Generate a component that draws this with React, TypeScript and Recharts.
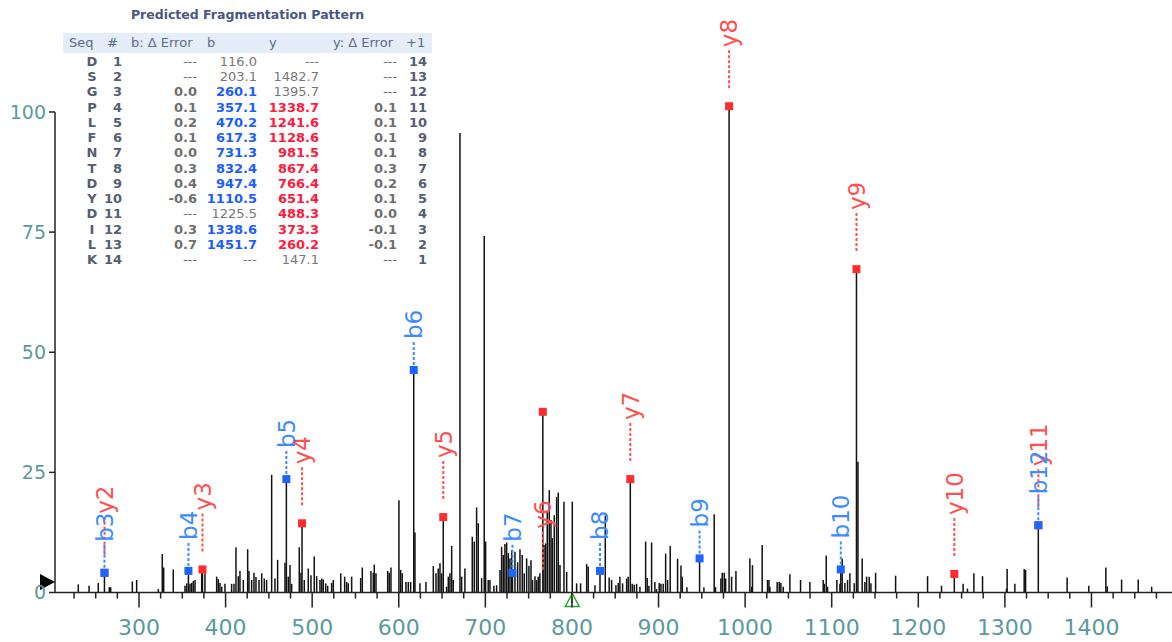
import React from 'react';
import { ComposedChart, XAxis, YAxis, Scatter, ErrorBar, ReferenceLine, ReferenceDot } from 'recharts';

// Spectrum peaks: [m/z, relative intensity]
const peaks: [number, number][] = [
  [229.9, 1.7], [242.3, 1.4], [253.0, 2.0], [260.1, 4.1], [265.7, 1.1], [267.3, 1.1], [292.3, 2.3], [297.3, 2.6],
  [322.3, 0.7], [326.9, 8.0], [328.5, 5.2], [339.6, 4.8], [353.1, 1.4], [355.1, 1.9], [357.1, 4.5], [358.9, 1.8],
  [360.8, 2.0], [362.7, 2.4], [364.7, 2.6], [372.4, 4.0], [373.3, 4.8], [376.2, 4.0], [389.7, 3.3], [391.6, 2.8],
  [393.5, 2.0], [395.5, 1.2], [399.3, 1.8], [407.0, 1.8], [409.7, 1.8], [412.0, 9.4], [414.7, 3.4], [416.6, 4.5],
  [420.5, 2.6], [425.5, 9.0], [427.0, 4.5], [430.1, 2.6], [432.8, 4.1], [435.1, 3.2], [438.6, 2.6], [441.7, 4.0],
  [444.7, 2.9], [447.4, 2.6], [453.2, 24.5], [457.0, 2.9], [460.1, 6.8], [468.6, 6.2], [470.2, 23.6], [472.4, 3.3],
  [474.4, 5.7], [476.3, 1.8], [485.1, 9.4], [487.1, 4.1], [488.3, 14.4], [490.9, 2.6], [495.5, 5.0], [498.6, 3.6],
  [502.4, 7.5], [505.2, 3.4], [509.0, 2.6], [511.0, 2.9], [512.8, 2.7], [515.6, 1.9], [517.9, 1.4], [522.5, 2.0],
  [524.4, 2.6], [533.0, 4.0], [537.5, 3.3], [539.8, 2.2], [541.7, 1.9], [545.6, 3.3], [556.0, 3.0], [557.9, 5.2],
  [567.9, 4.5], [570.6, 4.1], [571.7, 5.8], [573.7, 4.0], [587.2, 4.5], [589.0, 4.1], [591.0, 5.2], [600.2, 19.2],
  [602.2, 4.7], [604.0, 4.0], [608.3, 2.2], [611.0, 2.2], [613.7, 2.2], [617.3, 46.3], [618.7, 12.5], [624.5, 1.9],
  [631.4, 2.2], [639.9, 5.5], [643.0, 4.0], [645.6, 5.0], [647.6, 6.1], [649.5, 4.0], [651.4, 15.7], [655.2, 1.2],
  [657.2, 3.3], [659.1, 4.0], [661.1, 9.7], [662.9, 2.6], [670.7, 95.6], [672.6, 3.3], [676.4, 5.0], [684.9, 11.6],
  [687.2, 10.6], [689.9, 17.7], [691.8, 14.4], [695.7, 3.0], [698.7, 74.2], [700.3, 10.6], [703.3, 2.6], [705.3, 2.6],
  [709.9, 1.4], [713.0, 1.5], [716.9, 4.7], [718.8, 9.5], [720.7, 7.8], [722.6, 10.1], [724.6, 10.4], [726.5, 8.2],
  [728.4, 7.1], [730.4, 8.8], [731.3, 4.1], [734.2, 8.5], [737.3, 6.3], [740.0, 9.0], [742.6, 7.8], [744.9, 4.0],
  [747.7, 7.1], [750.3, 5.5], [752.7, 6.7], [754.5, 2.6], [757.3, 3.4], [759.2, 2.6], [761.1, 3.3], [763.0, 4.0],
  [766.4, 37.6], [767.7, 9.9], [769.6, 10.2], [771.5, 16.8], [773.8, 21.3], [775.8, 15.1], [777.3, 11.3], [779.6, 16.1],
  [782.3, 19.9], [784.2, 20.8], [786.2, 5.7], [790.8, 18.9], [793.9, 4.3], [800.4, 18.9], [805.4, 1.9], [810.0, 1.9],
  [817.0, 5.9], [818.8, 5.4], [826.6, 1.5], [832.4, 4.5], [838.5, 16.0], [843.0, 3.1], [845.8, 2.6], [850.8, 1.5],
  [853.5, 2.0], [855.4, 3.3], [858.5, 1.9], [863.2, 2.9], [865.0, 3.3], [867.4, 23.6], [869.6, 1.8], [871.9, 1.6],
  [874.7, 1.8], [878.5, 1.2], [885.1, 10.6], [886.9, 3.0], [888.9, 1.4], [892.0, 10.4], [895.8, 2.2], [897.7, 0.7],
  [900.8, 2.0], [902.8, 1.8], [905.4, 1.8], [908.2, 8.1], [910.5, 2.6], [913.5, 9.7], [922.0, 7.0], [925.9, 5.6],
  [927.4, 3.3], [932.8, 1.1], [947.4, 7.1], [952.4, 1.1], [964.3, 16.3], [965.8, 1.1], [972.0, 2.9], [973.6, 4.1],
  [975.9, 4.1], [977.5, 2.9], [981.5, 101.2], [984.4, 3.3], [989.4, 4.5], [1005.5, 7.1], [1007.5, 1.2], [1008.5, 5.7],
  [1019.7, 9.9], [1025.9, 2.6], [1027.5, 2.6], [1028.6, 1.2], [1037.0, 2.2], [1039.4, 2.2], [1041.3, 2.0], [1044.0, 1.2],
  [1051.7, 3.8], [1064.0, 2.6], [1074.8, 2.2], [1090.2, 2.6], [1091.4, 1.8], [1093.7, 7.7], [1095.2, 1.2], [1106.0, 2.6],
  [1109.5, 1.8], [1110.5, 4.8], [1112.1, 7.1], [1115.2, 2.0], [1118.3, 2.6], [1121.0, 4.0], [1126.0, 1.9], [1128.6, 67.3],
  [1130.3, 27.2], [1135.2, 7.1], [1138.3, 2.2], [1140.3, 3.3], [1143.3, 3.3], [1145.3, 1.9], [1150.7, 4.1], [1173.8, 3.5],
  [1210.7, 3.4], [1226.8, 1.4], [1241.6, 3.85], [1251.8, 1.8], [1256.8, 0.8], [1264.2, 4.0], [1274.2, 3.4], [1301.8, 0.8],
  [1302.6, 4.9], [1311.5, 1.8], [1322.3, 4.9], [1323.9, 4.7], [1338.6, 14.0], [1371.9, 3.1], [1396.9, 1.4], [1416.6, 5.2],
  [1418.2, 1.3], [1434.8, 2.7], [1454.0, 2.7], [1469.5, 1.2],
];

// matched fragment ions
const bIons = [
  { label: 'b3', mz: 260.1, intensity: 4.1 },
  { label: 'b4', mz: 357.1, intensity: 4.5 },
  { label: 'b5', mz: 470.2, intensity: 23.6 },
  { label: 'b6', mz: 617.3, intensity: 46.3 },
  { label: 'b7', mz: 731.3, intensity: 4.1 },
  { label: 'b8', mz: 832.4, intensity: 4.5 },
  { label: 'b9', mz: 947.4, intensity: 7.1 },
  { label: 'b10', mz: 1110.5, intensity: 4.8 },
  { label: 'b12', mz: 1338.6, intensity: 14.0 },
];

const yIons = [
  { label: 'y2', mz: 260.2, intensity: 4.1 },
  { label: 'y3', mz: 373.3, intensity: 4.8 },
  { label: 'y4', mz: 488.3, intensity: 14.4 },
  { label: 'y5', mz: 651.4, intensity: 15.7 },
  { label: 'y6', mz: 766.4, intensity: 37.6, labelAt: 1.0 },
  { label: 'y7', mz: 867.4, intensity: 23.6 },
  { label: 'y8', mz: 981.5, intensity: 101.2 },
  { label: 'y9', mz: 1128.6, intensity: 67.3 },
  { label: 'y10', mz: 1241.6, intensity: 3.85 },
  { label: 'y11', mz: 1338.7, intensity: 14.0 },
];

const precursorMz = 800.4;
const thresholdLevel = 2.2;

const xMajorTicks = [300, 400, 500, 600, 700, 800, 900, 1000, 1100, 1200, 1300, 1400];
const yTicks = [0, 25, 50, 75, 100];

// fragmentation table
const seqResidues = ['D', 'S', 'G', 'P', 'L', 'F', 'N', 'T', 'D', 'Y', 'D', 'I', 'L', 'K'];
const bValues = ['116.0', '203.1', '260.1', '357.1', '470.2', '617.3', '731.3', '832.4', '947.4', '1110.5', '1225.5', '1338.6', '1451.7', '---'];
const yValues = ['---', '1482.7', '1395.7', '1338.7', '1241.6', '1128.6', '981.5', '867.4', '766.4', '651.4', '488.3', '373.3', '260.2', '147.1'];
const bErrors = ['---', '---', '0.0', '0.1', '0.2', '0.1', '0.0', '0.3', '0.4', '-0.6', '---', '0.3', '0.7', '---'];
const yErrors = ['---', '---', '---', '0.1', '0.1', '0.1', '0.1', '0.3', '0.2', '0.1', '0.0', '-0.1', '-0.1', '---'];

const BLUE = '#1a66ff';
const BLUE_TXT = '#3d8cff';
const RED = '#ff2d2d';
const RED_TXT = '#ff4f4f';
const TEAL = '#5b9a9a';
const FONT = '"DejaVu Sans", Verdana, sans-serif';

const stemData = peaks.map(([mz, v]) => ({ mz, y: v / 2, err: v / 2 }));
const bMarkerData = bIons.map((d) => ({ mz: d.mz, y: d.intensity, label: d.label }));
const yMarkerData = yIons.map((d) => ({ mz: d.mz, y: d.intensity, label: d.label }));
const yLabelData = yIons.map((d) => ({ mz: d.mz, y: d.labelAt ?? d.intensity, label: d.label }));

const xTicks: number[] = [];
for (let t = 225; t <= 1475; t += 25) xTicks.push(t);

const XTick = (props: any) => {
  const { x, y, payload } = props;
  const major = xMajorTicks.includes(payload.value);
  return (
    <g>
      <line x1={x} y1={y} x2={x} y2={y + (major ? 15 : 6)} stroke="#222" strokeWidth={1.5} />
      {major && (
        <text x={x} y={y + 42} textAnchor="middle" fontSize={22} fill={TEAL} fontFamily={FONT}>
          {payload.value}
        </text>
      )}
    </g>
  );
};

const YTick = (props: any) => {
  const { x, y, payload } = props;
  return (
    <g>
      <line x1={x - 6} y1={y} x2={x} y2={y} stroke="#222" strokeWidth={1.5} />
      <text x={x - 9} y={y} dy="0.36em" textAnchor="end" fontSize={19} fill={TEAL} fontFamily={FONT}>
        {payload.value}
      </text>
    </g>
  );
};

const rotatedText = (cx: number, ty: number, label: string, color: string) => (
  <text
    x={cx}
    y={ty}
    dy="0.36em"
    transform={`rotate(-90 ${cx} ${ty})`}
    fontSize={23}
    fill={color}
    fontFamily={FONT}
  >
    {label}
  </text>
);

const BLabel = (props: any) => {
  const { cx, cy, payload } = props;
  return (
    <g>
      <line x1={cx} y1={cy} x2={cx} y2={cy - 30} stroke={BLUE_TXT} strokeWidth={2} strokeDasharray="3 2" />
      {rotatedText(cx, cy - 31, payload.label, BLUE_TXT)}
      <rect x={cx - 4} y={cy - 4} width={8} height={8} fill={BLUE} />
    </g>
  );
};

const YLabel = (props: any) => {
  const { cx, cy, payload } = props;
  return (
    <g>
      <line x1={cx} y1={cy - 18} x2={cx} y2={cy - 58} stroke={RED_TXT} strokeWidth={2} strokeDasharray="3 2" />
      {rotatedText(cx, cy - 59, payload.label, RED_TXT)}
    </g>
  );
};

const RedSquare = (props: any) => {
  const { cx, cy } = props;
  return <rect x={cx - 4} y={cy - 4} width={8} height={8} fill={RED} />;
};

const Empty = () => <g />;

const ThresholdMark = (props: any) => {
  const { cx, cy } = props;
  return <polygon points={`${cx - 15},${cy - 8} ${cx},${cy} ${cx - 15},${cy + 8}`} fill="#000" />;
};

const PrecursorMark = (props: any) => {
  const { cx, cy } = props;
  return (
    <g stroke="#2aa52a" strokeWidth={1.5} fill="none">
      <polygon points={`${cx},${cy + 1} ${cx - 7},${cy + 14} ${cx + 7},${cy + 14}`} />
      <line x1={cx} y1={cy + 5} x2={cx} y2={cy + 11} />
    </g>
  );
};

const ROW_H = 15.23;
const cellBase: React.CSSProperties = { position: 'absolute', whiteSpace: 'nowrap', lineHeight: `${ROW_H}px` };

const Cell = ({ right, top, text, color, bold }: { right: number; top: number; text: string; color: string; bold?: boolean }) => (
  <span style={{ ...cellBase, left: right - 80, width: 80, textAlign: 'right', top, color, fontWeight: bold ? 'bold' : 'normal' }}>
    {text}
  </span>
);

const FragTable = () => {
  const headerColor = '#5c6b8c';
  const header = [
    { t: 'Seq', l: 69 },
    { t: '#', l: 107 },
    { t: 'b: \u0394 Error', l: 131 },
    { t: 'b', l: 207 },
    { t: 'y', l: 269 },
    { t: 'y: \u0394 Error', l: 333 },
    { t: '+1', l: 406 },
  ];
  return (
    <div style={{ position: 'absolute', left: 0, top: 0, width: 440, height: 270, fontFamily: FONT, fontSize: 13 }}>
      <div style={{ position: 'absolute', left: 60, width: 375, top: 7, textAlign: 'center', fontWeight: 'bold', color: '#4a5684', fontSize: 12.5, lineHeight: '16px' }}>
        Predicted Fragmentation Pattern
      </div>
      <div style={{ position: 'absolute', left: 63, top: 33, width: 369, height: 20, background: '#e5edf9' }} />
      {header.map((h) => (
        <span key={h.t} style={{ position: 'absolute', left: h.l, top: 35, color: headerColor, lineHeight: '16px' }}>
          {h.t}
        </span>
      ))}
      {seqResidues.map((res, i) => {
        const top = 54 + i * ROW_H;
        const bMatched = bErrors[i] !== '---';
        const yMatched = yErrors[i] !== '---';
        return (
          <React.Fragment key={i}>
            <span style={{ ...cellBase, left: 82, width: 20, textAlign: 'center', top, color: '#555d72', fontWeight: 'bold' }}>{res}</span>
            <Cell right={122} top={top} text={String(i + 1)} color="#555d72" bold />
            <Cell right={197} top={top} text={bErrors[i]} color="#6e6e6e" bold={bMatched} />
            <Cell right={257} top={top} text={bValues[i]} color={bMatched ? '#1a5eff' : '#777'} bold={bMatched} />
            <Cell right={319} top={top} text={yValues[i]} color={yMatched ? '#ff1a3d' : '#777'} bold={yMatched} />
            <Cell right={397} top={top} text={yErrors[i]} color="#6e6e6e" bold={yMatched} />
            <Cell right={427} top={top} text={String(seqResidues.length - i)} color="#555d72" bold />
          </React.Fragment>
        );
      })}
    </div>
  );
};

export default function App() {
  return (
    <div style={{ position: 'absolute', left: 0, top: 0, width: 1172, height: 642, background: '#fff', overflow: 'hidden' }}>
      <ComposedChart width={1172} height={642} margin={{ top: 0, right: 0, bottom: 0, left: 0 }}>
        <XAxis
          type="number"
          dataKey="mz"
          domain={[203, 1493]}
          ticks={xTicks}
          interval={0}
          tickSize={0}
          tickMargin={0}
          tickLine={false}
          tick={<XTick />}
          axisLine={{ stroke: '#222', strokeWidth: 1.5 }}
          height={49.5}
        />
        <YAxis
          type="number"
          dataKey="y"
          domain={[0, 123.3]}
          ticks={yTicks}
          interval={0}
          tickSize={0}
          tickMargin={0}
          tickLine={false}
          axisLine={false}
          tick={<YTick />}
          width={55}
        />
        <ReferenceLine segment={[{ x: 203, y: 0 }, { x: 203, y: 100 }]} stroke="#222" strokeWidth={1.5} ifOverflow="visible" />
        <Scatter data={stemData} dataKey="y" shape={<Empty />} isAnimationActive={false}>
          <ErrorBar dataKey="err" direction="y" width={0} stroke="#111" strokeWidth={1.5} isAnimationActive={false} />
        </Scatter>
        <Scatter data={yLabelData} dataKey="y" shape={<YLabel />} isAnimationActive={false} />
        <Scatter data={yMarkerData} dataKey="y" shape={<RedSquare />} isAnimationActive={false} />
        <Scatter data={bMarkerData} dataKey="y" shape={<BLabel />} isAnimationActive={false} />
        <ReferenceDot x={203} y={thresholdLevel} shape={<ThresholdMark />} ifOverflow="visible" />
        <ReferenceDot x={precursorMz} y={0} shape={<PrecursorMark />} ifOverflow="visible" />
      </ComposedChart>
      <FragTable />
    </div>
  );
}
